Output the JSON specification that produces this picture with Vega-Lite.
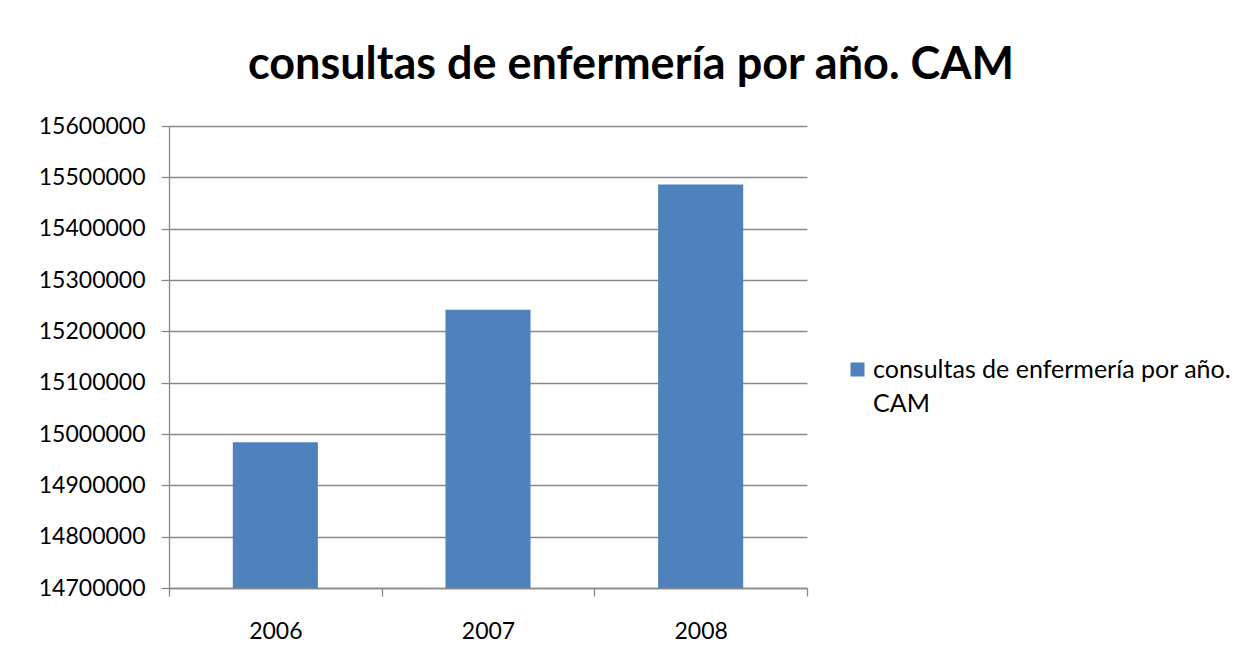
{
  "$schema": "https://vega.github.io/schema/vega-lite/v6.json",
  "width": 638,
  "height": 462,
  "autosize": {"type": "none"},
  "padding": {"left": 169, "top": 126, "right": 439, "bottom": 78},
  "background": "white",
  "title": {
    "text": "consultas de enfermería por año. CAM",
    "font": "Lato",
    "fontSize": 45,
    "fontWeight": "bold",
    "color": "black",
    "anchor": "middle",
    "frame": "group",
    "dx": 143,
    "offset": 27
  },
  "data": {
    "values": [
      {"year": "2006", "value": 14984000, "serie": "consultas de enfermería por año. CAM"},
      {"year": "2007", "value": 15242000, "serie": "consultas de enfermería por año. CAM"},
      {"year": "2008", "value": 15486000, "serie": "consultas de enfermería por año. CAM"}
    ]
  },
  "mark": {"type": "bar", "width": {"band": 0.4}, "clip": true},
  "encoding": {
    "x": {
      "field": "year",
      "type": "nominal",
      "scale": {"paddingInner": 0, "paddingOuter": 0},
      "axis": {
        "title": null,
        "labelAngle": 0,
        "labelFont": "Lato",
        "labelFontSize": 23,
        "labelColor": "black",
        "labelPadding": 24,
        "tickBand": "extent",
        "tickSize": 8,
        "tickColor": "#898989",
        "tickWidth": 1.3,
        "domainColor": "#898989",
        "domainWidth": 1.3,
        "grid": false
      }
    },
    "y": {
      "field": "value",
      "type": "quantitative",
      "scale": {"domain": [14700000, 15600000], "zero": false, "nice": false},
      "axis": {
        "title": null,
        "values": [14700000, 14800000, 14900000, 15000000, 15100000, 15200000, 15300000, 15400000, 15500000, 15600000],
        "format": "d",
        "labelFont": "Lato",
        "labelFontSize": 23,
        "labelColor": "black",
        "labelPadding": 16,
        "tickSize": 8,
        "tickColor": "#898989",
        "tickWidth": 1.3,
        "domainColor": "#898989",
        "domainWidth": 1.3,
        "grid": true,
        "gridColor": "#898989",
        "gridWidth": 1.3
      }
    },
    "color": {
      "field": "serie",
      "type": "nominal",
      "scale": {"range": ["#4F81BD"]},
      "legend": {
        "title": null,
        "orient": "none",
        "legendX": 676,
        "legendY": 231,
        "padding": 0,
        "symbolType": "square",
        "symbolSize": 196,
        "symbolStrokeWidth": 0,
        "symbolOpacity": 1,
        "labelFont": "Lato",
        "labelFontSize": 25,
        "labelColor": "black",
        "labelLimit": 0,
        "labelOffset": 3,
        "labelExpr": "['consultas de enfermería por año.', 'CAM']",
        "encode": {"labels": {"update": {"lineHeight": {"value": 34}}}}
      }
    }
  },
  "config": {"view": {"stroke": null}}
}
